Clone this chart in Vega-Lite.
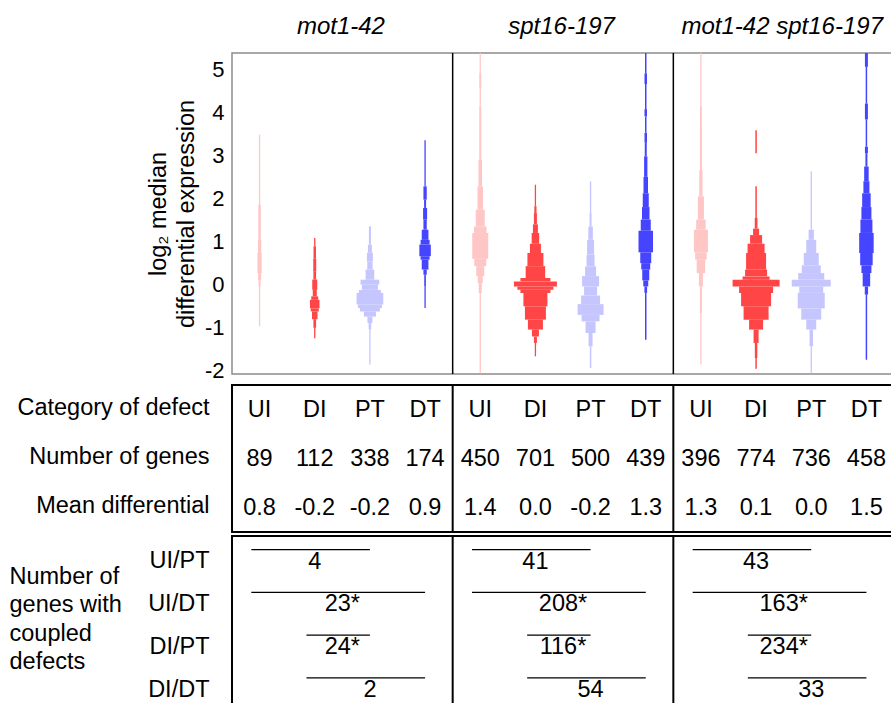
{
"$schema": "https://vega.github.io/schema/vega-lite/v6.json",
"autosize": {"type": "pad"},
"padding": {"left": 8, "top": 13, "right": 0, "bottom": 0},
"spacing": 0,
"config": {"font": "Liberation Sans", "axis": {"labelFont": "Liberation Sans", "titleFont": "Liberation Sans", "labelColor": "#000", "titleColor": "#000", "grid": false}, "text": {"font": "Liberation Sans"}},
"datasets": {
"div": [{"k": "b_UI"}, {"k": "c_UI"}],
"cells": [
{"k":"a_UI","r":"Category of defect","t":"UI"},{"k":"a_DI","r":"Category of defect","t":"DI"},{"k":"a_PT","r":"Category of defect","t":"PT"},{"k":"a_DT","r":"Category of defect","t":"DT"},
{"k":"b_UI","r":"Category of defect","t":"UI"},{"k":"b_DI","r":"Category of defect","t":"DI"},{"k":"b_PT","r":"Category of defect","t":"PT"},{"k":"b_DT","r":"Category of defect","t":"DT"},
{"k":"c_UI","r":"Category of defect","t":"UI"},{"k":"c_DI","r":"Category of defect","t":"DI"},{"k":"c_PT","r":"Category of defect","t":"PT"},{"k":"c_DT","r":"Category of defect","t":"DT"},
{"k":"a_UI","r":"Number of genes","t":"89"},{"k":"a_DI","r":"Number of genes","t":"112"},{"k":"a_PT","r":"Number of genes","t":"338"},{"k":"a_DT","r":"Number of genes","t":"174"},
{"k":"b_UI","r":"Number of genes","t":"450"},{"k":"b_DI","r":"Number of genes","t":"701"},{"k":"b_PT","r":"Number of genes","t":"500"},{"k":"b_DT","r":"Number of genes","t":"439"},
{"k":"c_UI","r":"Number of genes","t":"396"},{"k":"c_DI","r":"Number of genes","t":"774"},{"k":"c_PT","r":"Number of genes","t":"736"},{"k":"c_DT","r":"Number of genes","t":"458"},
{"k":"a_UI","r":"Mean differential","t":"0.8"},{"k":"a_DI","r":"Mean differential","t":"-0.2"},{"k":"a_PT","r":"Mean differential","t":"-0.2"},{"k":"a_DT","r":"Mean differential","t":"0.9"},
{"k":"b_UI","r":"Mean differential","t":"1.4"},{"k":"b_DI","r":"Mean differential","t":"0.0"},{"k":"b_PT","r":"Mean differential","t":"-0.2"},{"k":"b_DT","r":"Mean differential","t":"1.3"},
{"k":"c_UI","r":"Mean differential","t":"1.3"},{"k":"c_DI","r":"Mean differential","t":"0.1"},{"k":"c_PT","r":"Mean differential","t":"0.0"},{"k":"c_DT","r":"Mean differential","t":"1.5"}
],
"pairs": [
{"r":"UI/PT","a":"a_UI","b":"a_PT","m":"a_DI","t":"4"},
{"r":"UI/DT","a":"a_UI","b":"a_DT","m":"a_PT","t":"23*"},
{"r":"DI/PT","a":"a_DI","b":"a_PT","m":"a_PT","t":"24*"},
{"r":"DI/DT","a":"a_DI","b":"a_DT","m":"a_PT","t":"2"},
{"r":"UI/PT","a":"b_UI","b":"b_PT","m":"b_DI","t":"41"},
{"r":"UI/DT","a":"b_UI","b":"b_DT","m":"b_PT","t":"208*"},
{"r":"DI/PT","a":"b_DI","b":"b_PT","m":"b_PT","t":"116*"},
{"r":"DI/DT","a":"b_DI","b":"b_DT","m":"b_PT","t":"54"},
{"r":"UI/PT","a":"c_UI","b":"c_PT","m":"c_DI","t":"43"},
{"r":"UI/DT","a":"c_UI","b":"c_DT","m":"c_PT","t":"163*"},
{"r":"DI/PT","a":"c_DI","b":"c_PT","m":"c_PT","t":"234*"},
{"r":"DI/DT","a":"c_DI","b":"c_DT","m":"c_PT","t":"33"}
],
"violin": [
{"k":"a_UI","c":"UI","lo":1.855,"hi":3.48,"w":1.3},{"k":"a_UI","c":"UI","lo":1.04,"hi":1.855,"w":2.5},{"k":"a_UI","c":"UI","lo":0.735,"hi":1.04,"w":3.3},{"k":"a_UI","c":"UI","lo":0.27,"hi":0.735,"w":4.3},{"k":"a_UI","c":"UI","lo":0.1,"hi":0.27,"w":3},{"k":"a_UI","c":"UI","lo":-0.04,"hi":0.1,"w":2},{"k":"a_UI","c":"UI","lo":-0.965,"hi":-0.04,"w":1.3},
{"k":"a_DI","c":"DI","lo":0.89,"hi":1.08,"w":1.3},{"k":"a_DI","c":"DI","lo":0.6,"hi":0.89,"w":2.5},{"k":"a_DI","c":"DI","lo":0.3,"hi":0.6,"w":3},{"k":"a_DI","c":"DI","lo":0.12,"hi":0.3,"w":2.7},{"k":"a_DI","c":"DI","lo":-0.12,"hi":0.12,"w":5},{"k":"a_DI","c":"DI","lo":-0.27,"hi":-0.12,"w":4},{"k":"a_DI","c":"DI","lo":-0.35,"hi":-0.27,"w":7},{"k":"a_DI","c":"DI","lo":-0.55,"hi":-0.35,"w":9.5},{"k":"a_DI","c":"DI","lo":-0.62,"hi":-0.55,"w":8},{"k":"a_DI","c":"DI","lo":-0.8,"hi":-0.62,"w":5.5},{"k":"a_DI","c":"DI","lo":-1.0,"hi":-0.8,"w":2.7},{"k":"a_DI","c":"DI","lo":-1.24,"hi":-1.0,"w":1.3},
{"k":"a_PT","c":"PT","lo":0.927,"hi":1.353,"w":2},{"k":"a_PT","c":"PT","lo":0.74,"hi":0.927,"w":4},{"k":"a_PT","c":"PT","lo":0.54,"hi":0.74,"w":6},{"k":"a_PT","c":"PT","lo":0.35,"hi":0.54,"w":5.3},{"k":"a_PT","c":"PT","lo":0.116,"hi":0.35,"w":8.7},{"k":"a_PT","c":"PT","lo":0.0,"hi":0.116,"w":18.7},{"k":"a_PT","c":"PT","lo":-0.12,"hi":0.0,"w":16},{"k":"a_PT","c":"PT","lo":-0.19,"hi":-0.12,"w":22},{"k":"a_PT","c":"PT","lo":-0.46,"hi":-0.19,"w":26.7},{"k":"a_PT","c":"PT","lo":-0.54,"hi":-0.46,"w":24},{"k":"a_PT","c":"PT","lo":-0.62,"hi":-0.54,"w":20},{"k":"a_PT","c":"PT","lo":-0.74,"hi":-0.62,"w":12},{"k":"a_PT","c":"PT","lo":-0.89,"hi":-0.74,"w":5},{"k":"a_PT","c":"PT","lo":-1.04,"hi":-0.89,"w":2.5},{"k":"a_PT","c":"PT","lo":-1.85,"hi":-1.04,"w":1.3},
{"k":"a_DT","c":"DT","lo":2.28,"hi":3.347,"w":1.3},{"k":"a_DT","c":"DT","lo":1.97,"hi":2.28,"w":3.3},{"k":"a_DT","c":"DT","lo":1.78,"hi":1.97,"w":2},{"k":"a_DT","c":"DT","lo":1.51,"hi":1.78,"w":4},{"k":"a_DT","c":"DT","lo":1.275,"hi":1.51,"w":3.3},{"k":"a_DT","c":"DT","lo":1.04,"hi":1.275,"w":6.7},{"k":"a_DT","c":"DT","lo":0.93,"hi":1.04,"w":9},{"k":"a_DT","c":"DT","lo":0.66,"hi":0.93,"w":11.5},{"k":"a_DT","c":"DT","lo":0.58,"hi":0.66,"w":9},{"k":"a_DT","c":"DT","lo":0.35,"hi":0.58,"w":6.7},{"k":"a_DT","c":"DT","lo":0.23,"hi":0.35,"w":3.3},{"k":"a_DT","c":"DT","lo":-0.04,"hi":0.23,"w":1.7},{"k":"a_DT","c":"DT","lo":-0.54,"hi":-0.04,"w":1.3},
{"k":"b_UI","c":"UI","lo":4.91,"hi":5.37,"w":1.2},{"k":"b_UI","c":"UI","lo":4.56,"hi":4.91,"w":2},{"k":"b_UI","c":"UI","lo":4.134,"hi":4.56,"w":1.3},{"k":"b_UI","c":"UI","lo":2.898,"hi":4.134,"w":2},{"k":"b_UI","c":"UI","lo":2.28,"hi":2.898,"w":3.5},{"k":"b_UI","c":"UI","lo":1.74,"hi":2.28,"w":5.5},{"k":"b_UI","c":"UI","lo":1.35,"hi":1.74,"w":9},{"k":"b_UI","c":"UI","lo":1.2,"hi":1.35,"w":12.5},{"k":"b_UI","c":"UI","lo":0.6,"hi":1.2,"w":16},{"k":"b_UI","c":"UI","lo":0.43,"hi":0.6,"w":12},{"k":"b_UI","c":"UI","lo":0.2,"hi":0.43,"w":8},{"k":"b_UI","c":"UI","lo":0.04,"hi":0.2,"w":5},{"k":"b_UI","c":"UI","lo":-0.193,"hi":0.04,"w":3},{"k":"b_UI","c":"UI","lo":-2.05,"hi":-0.193,"w":1.3},
{"k":"b_DI","c":"DI","lo":1.82,"hi":2.318,"w":1.3},{"k":"b_DI","c":"DI","lo":1.66,"hi":1.82,"w":2.2},{"k":"b_DI","c":"DI","lo":1.4,"hi":1.66,"w":3},{"k":"b_DI","c":"DI","lo":1.2,"hi":1.4,"w":5},{"k":"b_DI","c":"DI","lo":0.95,"hi":1.2,"w":7.5},{"k":"b_DI","c":"DI","lo":0.735,"hi":0.95,"w":11},{"k":"b_DI","c":"DI","lo":0.43,"hi":0.735,"w":16},{"k":"b_DI","c":"DI","lo":0.155,"hi":0.43,"w":19.5},{"k":"b_DI","c":"DI","lo":0.077,"hi":0.155,"w":30},{"k":"b_DI","c":"DI","lo":-0.04,"hi":0.077,"w":43},{"k":"b_DI","c":"DI","lo":-0.116,"hi":-0.04,"w":36},{"k":"b_DI","c":"DI","lo":-0.193,"hi":-0.116,"w":30},{"k":"b_DI","c":"DI","lo":-0.5,"hi":-0.193,"w":24},{"k":"b_DI","c":"DI","lo":-0.81,"hi":-0.5,"w":21},{"k":"b_DI","c":"DI","lo":-1.04,"hi":-0.81,"w":15},{"k":"b_DI","c":"DI","lo":-1.2,"hi":-1.04,"w":7},{"k":"b_DI","c":"DI","lo":-1.35,"hi":-1.2,"w":3},{"k":"b_DI","c":"DI","lo":-1.66,"hi":-1.35,"w":1.3},
{"k":"b_PT","c":"PT","lo":1.66,"hi":2.396,"w":1.3},{"k":"b_PT","c":"PT","lo":1.35,"hi":1.66,"w":2},{"k":"b_PT","c":"PT","lo":1.04,"hi":1.35,"w":4.5},{"k":"b_PT","c":"PT","lo":0.7,"hi":1.04,"w":7},{"k":"b_PT","c":"PT","lo":0.425,"hi":0.7,"w":8},{"k":"b_PT","c":"PT","lo":0.2,"hi":0.425,"w":11},{"k":"b_PT","c":"PT","lo":-0.04,"hi":0.2,"w":17},{"k":"b_PT","c":"PT","lo":-0.25,"hi":-0.04,"w":13},{"k":"b_PT","c":"PT","lo":-0.45,"hi":-0.25,"w":19},{"k":"b_PT","c":"PT","lo":-0.7,"hi":-0.45,"w":26},{"k":"b_PT","c":"PT","lo":-0.85,"hi":-0.7,"w":18},{"k":"b_PT","c":"PT","lo":-1.12,"hi":-0.85,"w":10},{"k":"b_PT","c":"PT","lo":-1.43,"hi":-1.12,"w":4},{"k":"b_PT","c":"PT","lo":-1.93,"hi":-1.43,"w":1.5},
{"k":"b_DT","c":"DT","lo":4.9,"hi":5.37,"w":1.5},{"k":"b_DT","c":"DT","lo":4.65,"hi":4.9,"w":2.5},{"k":"b_DT","c":"DT","lo":4.07,"hi":4.65,"w":1.5},{"k":"b_DT","c":"DT","lo":3.9,"hi":4.07,"w":2.5},{"k":"b_DT","c":"DT","lo":3.52,"hi":3.9,"w":1.5},{"k":"b_DT","c":"DT","lo":3.29,"hi":3.52,"w":2.5},{"k":"b_DT","c":"DT","lo":2.975,"hi":3.29,"w":2},{"k":"b_DT","c":"DT","lo":2.5,"hi":2.975,"w":3.3},{"k":"b_DT","c":"DT","lo":2.12,"hi":2.5,"w":4.5},{"k":"b_DT","c":"DT","lo":1.8,"hi":2.12,"w":6},{"k":"b_DT","c":"DT","lo":1.51,"hi":1.8,"w":7.5},{"k":"b_DT","c":"DT","lo":1.25,"hi":1.51,"w":10},{"k":"b_DT","c":"DT","lo":0.75,"hi":1.25,"w":14.5},{"k":"b_DT","c":"DT","lo":0.5,"hi":0.75,"w":11},{"k":"b_DT","c":"DT","lo":0.35,"hi":0.5,"w":9},{"k":"b_DT","c":"DT","lo":0.1,"hi":0.35,"w":7},{"k":"b_DT","c":"DT","lo":-0.04,"hi":0.1,"w":5},{"k":"b_DT","c":"DT","lo":-0.19,"hi":-0.04,"w":2.7},{"k":"b_DT","c":"DT","lo":-1.275,"hi":-0.19,"w":1.5},
{"k":"c_UI","c":"UI","lo":4.135,"hi":5.37,"w":1.3},{"k":"c_UI","c":"UI","lo":3.67,"hi":4.135,"w":1.8},{"k":"c_UI","c":"UI","lo":2.66,"hi":3.67,"w":2},{"k":"c_UI","c":"UI","lo":2.05,"hi":2.66,"w":3.3},{"k":"c_UI","c":"UI","lo":1.51,"hi":2.05,"w":6},{"k":"c_UI","c":"UI","lo":1.275,"hi":1.51,"w":9.5},{"k":"c_UI","c":"UI","lo":0.75,"hi":1.275,"w":14},{"k":"c_UI","c":"UI","lo":0.58,"hi":0.75,"w":11.5},{"k":"c_UI","c":"UI","lo":0.27,"hi":0.58,"w":8.5},{"k":"c_UI","c":"UI","lo":-0.04,"hi":0.27,"w":4},{"k":"c_UI","c":"UI","lo":-0.66,"hi":-0.04,"w":2},{"k":"c_UI","c":"UI","lo":-1.85,"hi":-0.66,"w":1.3},
{"k":"c_DI","c":"DI","lo":3.05,"hi":3.58,"w":1.5},{"k":"c_DI","c":"DI","lo":1.546,"hi":2.28,"w":1.5},{"k":"c_DI","c":"DI","lo":1.3,"hi":1.546,"w":2.7},{"k":"c_DI","c":"DI","lo":1.15,"hi":1.3,"w":6},{"k":"c_DI","c":"DI","lo":0.95,"hi":1.15,"w":12},{"k":"c_DI","c":"DI","lo":0.735,"hi":0.95,"w":17},{"k":"c_DI","c":"DI","lo":0.35,"hi":0.735,"w":20},{"k":"c_DI","c":"DI","lo":0.193,"hi":0.35,"w":22},{"k":"c_DI","c":"DI","lo":0.116,"hi":0.193,"w":27},{"k":"c_DI","c":"DI","lo":-0.04,"hi":0.116,"w":47},{"k":"c_DI","c":"DI","lo":-0.193,"hi":-0.04,"w":34},{"k":"c_DI","c":"DI","lo":-0.5,"hi":-0.193,"w":30},{"k":"c_DI","c":"DI","lo":-0.81,"hi":-0.5,"w":25},{"k":"c_DI","c":"DI","lo":-1.04,"hi":-0.81,"w":14},{"k":"c_DI","c":"DI","lo":-1.35,"hi":-1.04,"w":5},{"k":"c_DI","c":"DI","lo":-1.7,"hi":-1.35,"w":2.5},{"k":"c_DI","c":"DI","lo":-1.95,"hi":-1.7,"w":1.5},
{"k":"c_PT","c":"PT","lo":1.275,"hi":2.628,"w":1.3},{"k":"c_PT","c":"PT","lo":1.04,"hi":1.275,"w":5.3},{"k":"c_PT","c":"PT","lo":0.735,"hi":1.04,"w":10},{"k":"c_PT","c":"PT","lo":0.45,"hi":0.735,"w":15},{"k":"c_PT","c":"PT","lo":0.27,"hi":0.45,"w":19},{"k":"c_PT","c":"PT","lo":0.116,"hi":0.27,"w":26},{"k":"c_PT","c":"PT","lo":-0.04,"hi":0.116,"w":39},{"k":"c_PT","c":"PT","lo":-0.19,"hi":-0.04,"w":24},{"k":"c_PT","c":"PT","lo":-0.55,"hi":-0.19,"w":27},{"k":"c_PT","c":"PT","lo":-0.81,"hi":-0.55,"w":20},{"k":"c_PT","c":"PT","lo":-1.04,"hi":-0.81,"w":10},{"k":"c_PT","c":"PT","lo":-1.43,"hi":-1.04,"w":3.5},{"k":"c_PT","c":"PT","lo":-2.05,"hi":-1.43,"w":1.3},
{"k":"c_DT","c":"DT","lo":5.05,"hi":5.37,"w":3},{"k":"c_DT","c":"DT","lo":4.2,"hi":5.05,"w":1.5},{"k":"c_DT","c":"DT","lo":3.83,"hi":4.2,"w":3},{"k":"c_DT","c":"DT","lo":3.2,"hi":3.83,"w":1.5},{"k":"c_DT","c":"DT","lo":3.05,"hi":3.2,"w":3},{"k":"c_DT","c":"DT","lo":2.74,"hi":3.05,"w":2},{"k":"c_DT","c":"DT","lo":2.4,"hi":2.74,"w":4.5},{"k":"c_DT","c":"DT","lo":2.12,"hi":2.4,"w":6},{"k":"c_DT","c":"DT","lo":1.8,"hi":2.12,"w":8.5},{"k":"c_DT","c":"DT","lo":1.51,"hi":1.8,"w":10},{"k":"c_DT","c":"DT","lo":1.2,"hi":1.51,"w":12},{"k":"c_DT","c":"DT","lo":0.735,"hi":1.2,"w":14.5},{"k":"c_DT","c":"DT","lo":0.45,"hi":0.735,"w":12.5},{"k":"c_DT","c":"DT","lo":0.27,"hi":0.45,"w":10},{"k":"c_DT","c":"DT","lo":-0.04,"hi":0.27,"w":7.5},{"k":"c_DT","c":"DT","lo":-0.23,"hi":-0.04,"w":3.3},{"k":"c_DT","c":"DT","lo":-1.74,"hi":-0.23,"w":1.5}
]
},
"vconcat": [
{
"width": 662, "height": 321,
"view": {"stroke": "#8c8c8c", "strokeWidth": 1.5},
"layer": [
{"data": {"name": "violin"},
"mark": {"type": "bar", "orient": "vertical", "clip": true},
"encoding": {
"x": {"field": "k", "type": "nominal", "title": null,
"scale": {"type": "band", "domain": ["a_UI","a_DI","a_PT","a_DT","b_UI","b_DI","b_PT","b_DT","c_UI","c_DI","c_PT","c_DT"], "paddingInner": 0, "paddingOuter": 0},
"axis": {"orient": "top", "ticks": false, "domain": false, "labelAngle": 0, "labelOverlap": false, "labelLimit": 400, "labelFontSize": 24, "labelFontStyle": "italic", "labelPadding": 15, "labelOffset": -29, "title": null,
"labelExpr": "datum.value == 'a_PT' ? 'mot1-42' : datum.value == 'b_PT' ? 'spt16-197' : datum.value == 'c_PT' ? 'mot1-42 spt16-197' : ''"}},
"y": {"field": "lo", "type": "quantitative", "scale": {"domain": [-2.07, 5.371], "nice": false, "zero": false},
"axis": {"values": [-2,-1,0,1,2,3,4,5], "ticks": false, "domain": false, "labelFontSize": 22, "labelPadding": 8, "labelExpr": "'' + datum.value",
"title": ["log₂ median", "differential expression"], "titleFontSize": 23.5, "titleFontWeight": "normal", "titlePadding": 6, "titleLineHeight": 28}},
"y2": {"field": "hi"},
"size": {"field": "w", "type": "quantitative", "scale": {"type": "linear", "domain": [0, 50], "range": [0, 50]}, "legend": null},
"color": {"field": "c", "type": "nominal", "scale": {"domain": ["UI","DI","PT","DT"], "range": ["#ffc6c6","#ff4545","#c6c6ff","#4545ff"]}, "legend": null}
}},
{"data": {"name": "div"},
"mark": {"type": "rule", "color": "#000", "strokeWidth": 1.5},
"encoding": {"x": {"field": "k", "type": "nominal", "bandPosition": 0, "title": null}}}
]
},
{
"width": 662, "height": 147,
"view": {"stroke": "#000", "strokeWidth": 2},
"layer": [
{"data": {"name": "cells"},
"mark": {"type": "text", "fontSize": 23.5, "color": "#000"},
"encoding": {
"x": {"field": "k", "type": "nominal", "title": null,
"scale": {"type": "band", "domain": ["a_UI","a_DI","a_PT","a_DT","b_UI","b_DI","b_PT","b_DT","c_UI","c_DI","c_PT","c_DT"], "paddingInner": 0, "paddingOuter": 0},
"axis": null},
"y": {"field": "r", "type": "nominal", "title": null,
"scale": {"type": "band", "domain": ["Category of defect","Number of genes","Mean differential"], "paddingInner": 0, "paddingOuter": 0},
"axis": {"ticks": false, "domain": false, "labelFontSize": 23.5, "labelPadding": 23, "labelLimit": 400, "labelOffset": -2}},
"text": {"field": "t", "type": "nominal"}
}},
{"data": {"name": "div"},
"mark": {"type": "rule", "color": "#000", "strokeWidth": 2},
"encoding": {"x": {"field": "k", "type": "nominal", "bandPosition": 0, "title": null}}}
]
},
{
"width": 662, "height": 171,
"view": {"stroke": "#000", "strokeWidth": 2},
"layer": [
{"data": {"name": "pairs"},
"mark": {"type": "rule", "color": "#000", "strokeWidth": 1.2},
"encoding": {
"x": {"field": "a", "type": "nominal", "bandPosition": 0.35, "title": null,
"scale": {"type": "band", "domain": ["a_UI","a_DI","a_PT","a_DT","b_UI","b_DI","b_PT","b_DT","c_UI","c_DI","c_PT","c_DT"], "paddingInner": 0, "paddingOuter": 0},
"axis": null},
"x2": {"field": "b"},
"y": {"field": "r", "type": "nominal", "bandPosition": 0.32, "title": null,
"scale": {"type": "band", "domain": ["UI/PT","UI/DT","DI/PT","DI/DT"], "paddingInner": 0, "paddingOuter": 0},
"axis": {"ticks": false, "domain": false, "labelOffset": 4, "labelFontSize": 23.5, "labelPadding": 23,
"title": ["Number of", "genes with", "coupled", "defects"], "titleAngle": 0, "titleAlign": "left", "titleBaseline": "middle", "titleX": -223, "titleY": 40, "titleFontSize": 23.5, "titleFontWeight": "normal", "titleLineHeight": 28.5}}
}},
{"data": {"name": "pairs"},
"transform": [{"filter": "datum.r == 'UI/PT' || datum.r == 'DI/DT'"}],
"mark": {"type": "text", "fontSize": 23.5, "color": "#000"},
"encoding": {
"x": {"field": "m", "type": "nominal", "bandPosition": 0.5},
"y": {"field": "r", "type": "nominal", "bandPosition": 0.6},
"text": {"field": "t", "type": "nominal"}
}},
{"data": {"name": "pairs"},
"transform": [{"filter": "datum.r == 'UI/DT' || datum.r == 'DI/PT'"}],
"mark": {"type": "text", "fontSize": 23.5, "color": "#000"},
"encoding": {
"x": {"field": "m", "type": "nominal", "bandPosition": 0},
"y": {"field": "r", "type": "nominal", "bandPosition": 0.6},
"text": {"field": "t", "type": "nominal"}
}},
{"data": {"name": "div"},
"mark": {"type": "rule", "color": "#000", "strokeWidth": 2},
"encoding": {"x": {"field": "k", "type": "nominal", "bandPosition": 0, "title": null}}}
]
}
]
}
